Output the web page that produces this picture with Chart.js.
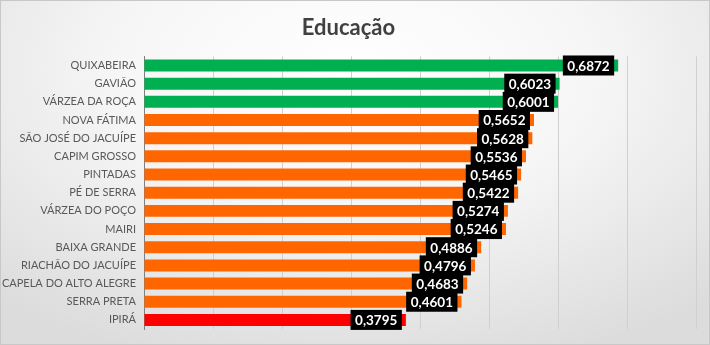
<!DOCTYPE html>
<html>
<head>
<meta charset="utf-8">
<script src="https://cdn.jsdelivr.net/npm/chart.js@4.4.0/dist/chart.umd.min.js"></script>
<style>
  html, body { margin: 0; padding: 0; }
  body { width: 710px; height: 345px; overflow: hidden; }
  #wrap {
    position: relative;
    width: 708px;
    height: 343px;
    border: 1px solid #c8c8c8;
    background: radial-gradient(ellipse 75% 90% at 50% 20%, #ffffff 0%, #f6f6f6 45%, #dcdcdc 100%);
  }
</style>
</head>
<body>
<div id="wrap"><canvas id="chart" width="708" height="343"></canvas></div>
<script>
// Municipalities and their education index
const cities = [
  "QUIXABEIRA", "GAVIÃO", "VÁRZEA DA ROÇA", "NOVA FÁTIMA", "SÃO JOSÉ DO JACUÍPE",
  "CAPIM GROSSO", "PINTADAS", "PÉ DE SERRA", "VÁRZEA DO POÇO", "MAIRI",
  "BAIXA GRANDE", "RIACHÃO DO JACUÍPE", "CAPELA DO ALTO ALEGRE", "SERRA PRETA", "IPIRÁ"
];
const values = [
  0.6872, 0.6023, 0.6001, 0.5652, 0.5628,
  0.5536, 0.5465, 0.5422, 0.5274, 0.5246,
  0.4886, 0.4796, 0.4683, 0.4601, 0.3795
];

// top three in green, last one in red, the rest orange
const barColor = (i) => {
  if (i < 3) return "#00b050";
  if (i === values.length - 1) return "#ff0000";
  return "#ff6600";
};

// black value boxes at the end of each bar
const valueBoxes = {
  id: "valueBoxes",
  afterDatasetsDraw(chart) {
    const ctx = chart.ctx;
    const meta = chart.getDatasetMeta(0);
    ctx.save();
    ctx.font = "bold 13.5px Lato";
    ctx.textAlign = "center";
    ctx.textBaseline = "middle";
    meta.data.forEach((bar, i) => {
      const text = values[i].toFixed(4).replace(".", ",");
      const w = ctx.measureText(text).width + 9;
      const h = 20;
      const right = bar.x - 4;
      ctx.fillStyle = "#000000";
      ctx.fillRect(right - w, bar.y - h / 2, w, h);
      ctx.fillStyle = "#ffffff";
      ctx.fillText(text, right - w / 2, bar.y + 1);
    });
    ctx.restore();
  }
};

new Chart(document.getElementById("chart"), {
  type: "bar",
  plugins: [valueBoxes],
  data: {
    labels: cities,
    datasets: [{
      data: values,
      backgroundColor: values.map((_, i) => barColor(i)),
      categoryPercentage: 1,
      barPercentage: 0.66
    }]
  },
  options: {
    indexAxis: "y",
    responsive: false,
    animation: false,
    layout: { padding: { left: 0, right: 13, top: 0, bottom: 15 } },
    plugins: {
      legend: { display: false },
      tooltip: { enabled: false },
      title: {
        display: true,
        text: "Educação",
        color: "#404040",
        font: { family: "Lato", size: 22, weight: "bold" },
        padding: { top: 14, bottom: 15 }
      }
    },
    scales: {
      x: {
        min: 0,
        max: 0.8,
        ticks: { display: false, stepSize: 0.1 },
        grid: { color: "#d0d0d0", drawTicks: false },
        border: { display: false },
        afterFit: (s) => { s.height = 0; }
      },
      y: {
        ticks: {
          color: "#595959",
          font: { family: "Lato", size: 11 },
          padding: 8
        },
        grid: { display: false, drawTicks: false },
        border: { display: true, color: "#7f7f7f", width: 1 },
        afterFit: (s) => { s.width = 143; }
      }
    }
  }
});
</script>
</body>
</html>
